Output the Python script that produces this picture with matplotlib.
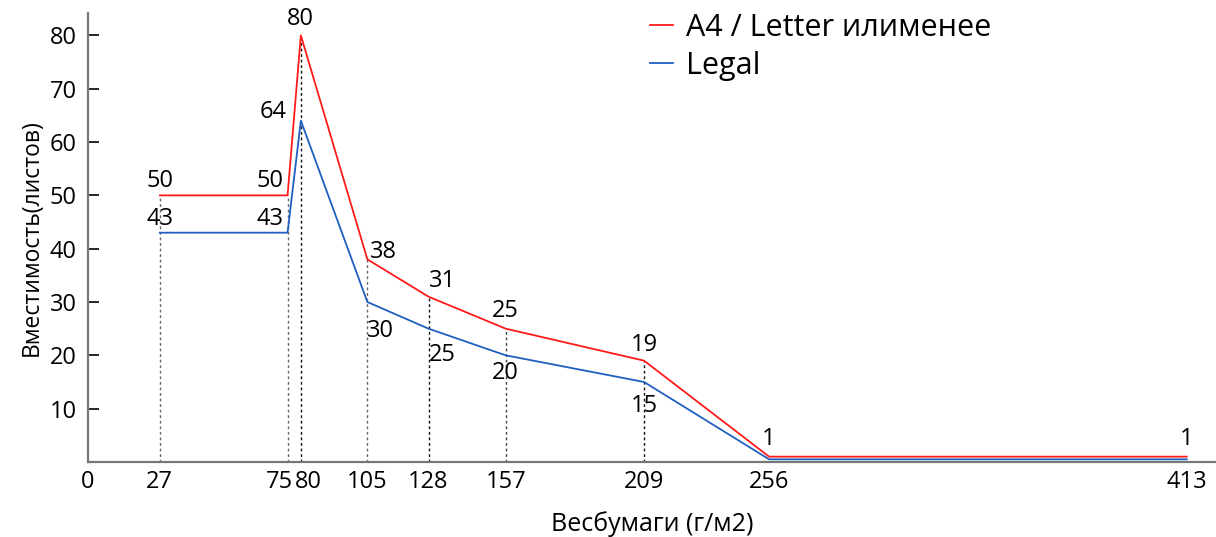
import matplotlib
matplotlib.use("Agg")
import matplotlib.pyplot as plt
import matplotlib.transforms as mtransforms

plt.rcParams["font.family"] = ["Open Sans", "DejaVu Sans"]

weights = [27, 75, 80, 105, 128, 157, 209, 256, 413]
a4_letter = [50, 50, 80, 38, 31, 25, 19, 1, 1]
legal = [43, 43, 64, 30, 25, 20, 15, 0.5, 0.5]
legal_labels = ["43", "43", "64", "30", "25", "20", "15", None, None]
guide_weights = [27, 75, 80, 105, 128, 157, 209]
guide_colors = ["#666666", "#666666", "#111111", "#666666", "#111111", "#444444", "#111111"]

RED, BLUE = "#ff1a1a", "#1f5fc0"

fig = plt.figure(figsize=(12.16, 5.37), dpi=100)
ax = fig.add_axes([0.0724, 0.1397, 0.9276, 0.8361])
ax.set_xlim(0, 424)
ax.set_ylim(0, 84.2)

# dotted guides from the axis up to the upper curve
for w, c in zip(guide_weights, guide_colors):
    top = a4_letter[weights.index(w)]
    ax.plot([w, w], [0, top], ls=(0, (2, 2)), lw=1.0, color=c, zorder=1)

ax.plot(weights, a4_letter, color=RED, lw=1.3, label="A4 / Letter илименее", zorder=3)
ax.plot(weights, legal, color=BLUE, lw=1.3, label="Legal", zorder=3)

fs = 17
# value labels: (dx, dy of text centre in points, ha)
red_off = [(0, 10, "center"), (-3, 10, "right"), (0, 12, "center"), (2, 5, "left"),
           (0, 11, "left"), (0, 13, "center"), (0, 11, "center"), (0, 13, "center"),
           (0, 13, "center")]
blue_off = [(0, 10, "center"), (-3, 10, "right"), (-10, 6, "right"), (0, -21, "left"),
            (0, -19, "left"), (0, -13, "center"), (0, -17, "center")]
for w, v, (dx, dy, ha) in zip(weights, a4_letter, red_off):
    ax.annotate(str(v), (w, v), xytext=(dx, dy), textcoords="offset points",
                ha=ha, va="center", fontsize=fs)
for w, v, lab, (dx, dy, ha) in zip(weights, legal, legal_labels, blue_off):
    ax.annotate(lab, (w, v), xytext=(dx, dy), textcoords="offset points",
                ha=ha, va="center", fontsize=fs)

ax.set_xticks(weights)
ax.set_xticklabels([str(w) for w in weights])
ax.set_yticks(range(10, 90, 10))
ax.tick_params(axis="x", length=0, labelsize=fs, pad=6)
ax.tick_params(axis="y", direction="in", length=8, width=1.2, labelsize=fs, pad=8)
# nudge the crowded 75 / 80 labels apart
for lab, dx in zip(ax.get_xticklabels()[1:3], (-8, 8)):
    lab.set_transform(lab.get_transform() +
                      mtransforms.ScaledTranslation(dx / 100, 0, fig.dpi_scale_trans))
ax.text(0, -1.5, "0", ha="center", va="top", fontsize=fs)

for s in ("top", "right"):
    ax.spines[s].set_visible(False)
for s in ("left", "bottom"):
    ax.spines[s].set_color("#777777")
    ax.spines[s].set_linewidth(1.6)

ax.set_xlabel("Весбумаги (г/м2)", fontsize=18, labelpad=12)
ax.set_ylabel("Вместимость(листов)", fontsize=16.5, labelpad=4)

ax.legend(loc="upper left", bbox_to_anchor=(0.498, 1.0), frameon=False,
          fontsize=22, handlelength=0.75, handletextpad=0.45, labelspacing=0.25,
          borderpad=0, borderaxespad=0)

fig.savefig("out.png", dpi=100)
